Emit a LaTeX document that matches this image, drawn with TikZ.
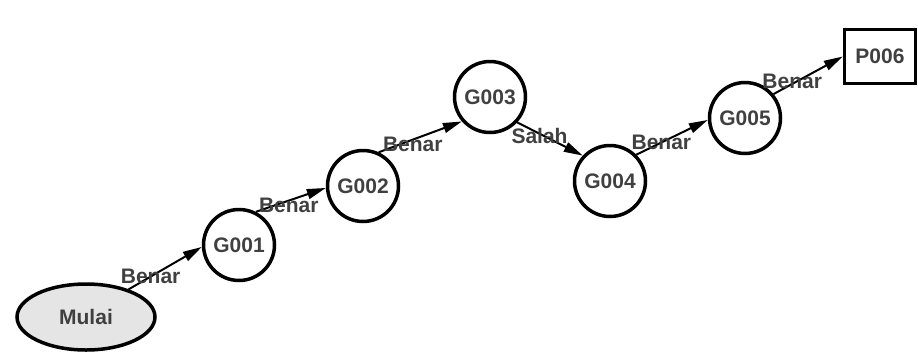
\documentclass[tikz,border=0pt]{standalone}
\usepackage{fontspec}
\setmainfont{Liberation Sans}
\usetikzlibrary{shapes.geometric,arrows.meta}
\begin{document}
\begin{tikzpicture}[x=1pt,y=-1pt,
  state/.style={circle,draw=black,line width=3.5pt,minimum size=71pt,inner sep=0pt,
    font=\fontsize{21}{21}\selectfont\bfseries,text=black!75},
  startnode/.style={ellipse,draw=black,fill=black!10,line width=3.5pt,minimum width=138pt,
    minimum height=66pt,inner sep=0pt,font=\fontsize{21}{21}\selectfont\bfseries,text=black!75},
  endnode/.style={rectangle,draw=black,line width=3.5pt,minimum width=71pt,minimum height=54pt,
    inner sep=0pt,font=\fontsize{21}{21}\selectfont\bfseries,text=black!75},
  conn/.style={draw=black,line width=2pt,-{Triangle[length=19pt,width=10pt]}},
  lbl/.style={font=\fontsize{21}{21}\selectfont\bfseries,text=black!75,inner sep=0pt}
]
\useasboundingbox (0,0) rectangle (918,354);

\node[startnode] (mulai) at (86,317) {Mulai};
\node[state] (g1) at (239,245) {G001};
\node[state] (g2) at (363,186) {G002};
\node[state] (g3) at (490,97) {G003};
\node[state] (g4) at (610,181) {G004};
\node[state] (g5) at (745,118) {G005};
\node[endnode] (p6) at (880,56.5) {P006};

\path[conn] (mulai.33) -- node[lbl,pos=0.3] {Benar} (g1.183);
\path[conn] (g1.63) -- node[lbl,pos=0.47,yshift=-5pt] {Benar} (g2.183);
\path[conn] (g2.65) -- node[lbl,pos=0.41,yshift=-5pt] {Benar} (g3.221);
\path[conn] (g3.-43) -- node[lbl,pos=0.34,yshift=-2pt] {Salah} (g4.137);
\path[conn] (g4.45) -- node[lbl,pos=0.35] {Benar} (g5.183);
\path[conn] (g5.40) -- node[lbl,pos=0.27,yshift=3pt] {Benar} (p6.west);
\end{tikzpicture}
\end{document}
